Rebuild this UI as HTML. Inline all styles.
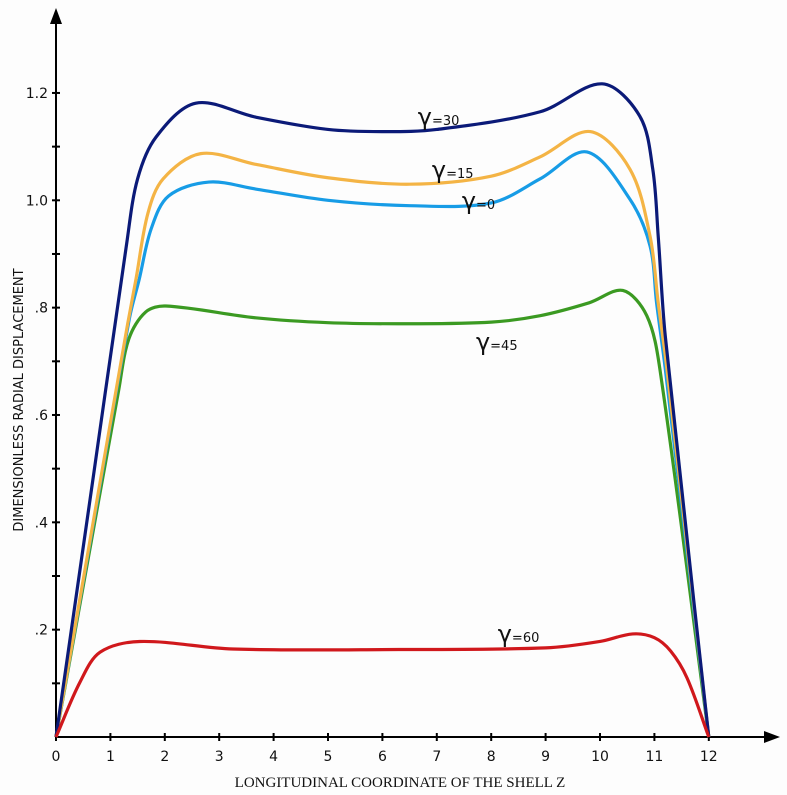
<!DOCTYPE html>
<html><head><meta charset="utf-8"><style>
body{margin:0;background:#fdfdfd;}
svg{display:block;}
</style></head><body>
<svg id="chart" width="787" height="795" viewBox="0 0 787 795" xmlns="http://www.w3.org/2000/svg">
<rect width="787" height="795" fill="#fdfdfd"/>
<g id="axes"></g>
<g id="series"></g>
<g id="labels"></g>
<text x="23" y="400" transform="rotate(-90 23 400)" text-anchor="middle" font-family="'DejaVu Sans','Liberation Sans',sans-serif" font-size="13" fill="#111">DIMENSIONLESS RADIAL DISPLACEMENT</text>
<text x="400" y="787" text-anchor="middle" font-family="'Liberation Serif',serif" font-size="15" fill="#111">LONGITUDINAL COORDINATE OF THE SHELL Z</text>
</svg>
<script>
const xTicks=[0,1,2,3,4,5,6,7,8,9,10,11,12];
const yMajorTicks=[0.2,0.4,0.6,0.8,1.0,1.2];
const yMajorLabels=[".2",".4",".6",".8","1.0","1.2"];
const yMinorTicks=[0.1,0.3,0.5,0.7,0.9,1.1];
const seriesNames=["gamma-30","gamma-15","gamma-0","gamma-45","gamma-60"];
const seriesColors=["#0b1a78","#f4b445","#179ce6","#3b9a22","#d0181c"];
const g30x=[0,0.7,1.3,1.5,1.84,2.57,3.67,5,6,7,8.9,10.04,10.73,10.97,11.07,11.2,12];
const g30y=[0,0.495,0.92,1.04,1.118,1.181,1.155,1.132,1.128,1.132,1.165,1.217,1.157,1.058,0.933,0.747,0];
const g15x=[0,0.7,1.3,1.47,1.69,1.97,2.66,3.67,5,6.5,8,8.9,9.82,10.55,10.92,11.07,11.23,12];
const g15y=[0,0.41,0.76,0.853,0.976,1.04,1.087,1.067,1.042,1.03,1.045,1.081,1.128,1.058,0.933,0.809,0.686,0];
const g0x=[0,0.7,1.35,1.53,1.75,2.07,2.81,3.67,5,6.5,8,8.9,9.76,10.55,10.92,11.04,11.2,12];
const g0y=[0,0.405,0.78,0.853,0.947,1.008,1.034,1.021,1.0,0.99,0.995,1.04,1.09,1.002,0.915,0.809,0.686,0];
const g45x=[0,0.6,1.15,1.34,1.65,2.02,3.67,5,6.5,8,8.9,9.8,10.42,10.86,11.1,12];
const g45y=[0,0.337,0.645,0.742,0.792,0.803,0.781,0.772,0.77,0.773,0.785,0.809,0.832,0.785,0.686,0];
const g60x=[0,0.44,0.81,1.54,3.25,6.3,9,10.0,10.6,11,11.3,11.6,12];
const g60y=[0,0.102,0.158,0.178,0.164,0.163,0.166,0.178,0.192,0.185,0.16,0.11,0];
const labelText=["30","15","0","45","60"];
const labelZ=[6.65,6.91,7.46,7.72,8.12];
const labelV=[1.14,1.042,0.984,0.721,0.177];

const X0=56,XS=54.4,Y0=737,YS=536.7;
const sx=v=>X0+v*XS, sy=v=>Y0-v*YS;
const NS="http://www.w3.org/2000/svg";
function mk(tag,attrs,parent){const e=document.createElementNS(NS,tag);for(const k in attrs)e.setAttribute(k,attrs[k]);parent.appendChild(e);return e;}
const axes=document.getElementById('axes');
let e=mk('line',{x1:X0,y1:Y0,x2:772,y2:Y0,stroke:'#000','stroke-width':2},axes);


e=mk('line',{x1:X0,y1:Y0,x2:X0,y2:20,stroke:'#000','stroke-width':2},axes);


e=mk('polygon',{points:'780,737 764,731 764,743',fill:'#000'},axes);


e=mk('polygon',{points:'56,8 50,24 62,24',fill:'#000'},axes);


xTicks.forEach(t=>{
  const x=sx(t);
  let l=mk('line',{x1:x,y1:Y0-4,x2:x,y2:Y0+4,stroke:'#000','stroke-width':2},axes);
  
  
  let tx=mk('text',{x:x,y:Y0+24,'text-anchor':'middle','font-family':"'DejaVu Sans',sans-serif",'font-size':14,fill:'#111'},axes);
  tx.textContent=t;
  
  
});
yMajorTicks.forEach((t,i)=>{
  const y=sy(t);
  let l=mk('line',{x1:X0-4,y1:y,x2:X0+4,y2:y,stroke:'#000','stroke-width':2},axes);
  
  
  let tx=mk('text',{x:X0-8,y:y+5,'text-anchor':'end','font-family':"'DejaVu Sans',sans-serif",'font-size':14,fill:'#111'},axes);
  tx.textContent=yMajorLabels[i];
  
  
});
yMinorTicks.forEach(t=>{
  const y=sy(t);
  let l=mk('line',{x1:X0-4,y1:y,x2:X0+4,y2:y,stroke:'#000','stroke-width':2},axes);
  
  
});
// chordal Catmull-Rom in pixel space
function path(xs,ys){
  const P=xs.map((v,i)=>[sx(v),sy(ys[i])]),n=P.length;
  const t=[0];
  for(let i=1;i<n;i++)t.push(t[i-1]+Math.hypot(P[i][0]-P[i-1][0],P[i][1]-P[i-1][1]));
  const M=P.map((p,i)=>{
    const a=P[Math.max(0,i-1)],b=P[Math.min(n-1,i+1)];
    const dt=t[Math.min(n-1,i+1)]-t[Math.max(0,i-1)];
    return [(b[0]-a[0])/dt,(b[1]-a[1])/dt];
  });
  let s=`M${P[0][0]},${P[0][1]}`;
  for(let i=0;i<n-1;i++){
    const h=(t[i+1]-t[i])/3;
    s+=` C${P[i][0]+M[i][0]*h},${P[i][1]+M[i][1]*h} ${P[i+1][0]-M[i+1][0]*h},${P[i+1][1]-M[i+1][1]*h} ${P[i+1][0]},${P[i+1][1]}`;
  }
  return s;
}
const sg=document.getElementById('series');
const allX=[g30x,g15x,g0x,g45x,g60x],allY=[g30y,g15y,g0y,g45y,g60y];
[3,2,1,0,4].forEach(i=>{
  const pth=mk('path',{d:path(allX[i],allY[i]),fill:'none',stroke:seriesColors[i],'stroke-width':3.2,'stroke-linejoin':'round'},sg);
  
  
});
const lg=document.getElementById('labels');
labelText.forEach((s,i)=>{
  const t=mk('text',{x:sx(labelZ[i]),y:sy(labelV[i]),'font-family':"'DejaVu Sans',sans-serif",fill:'#111'},lg);
  
  
  const a=mk('tspan',{'font-size':24},t);a.textContent='γ';
  const b=mk('tspan',{'font-size':13},t);b.textContent='='+s;
});
</script>
</body></html>
